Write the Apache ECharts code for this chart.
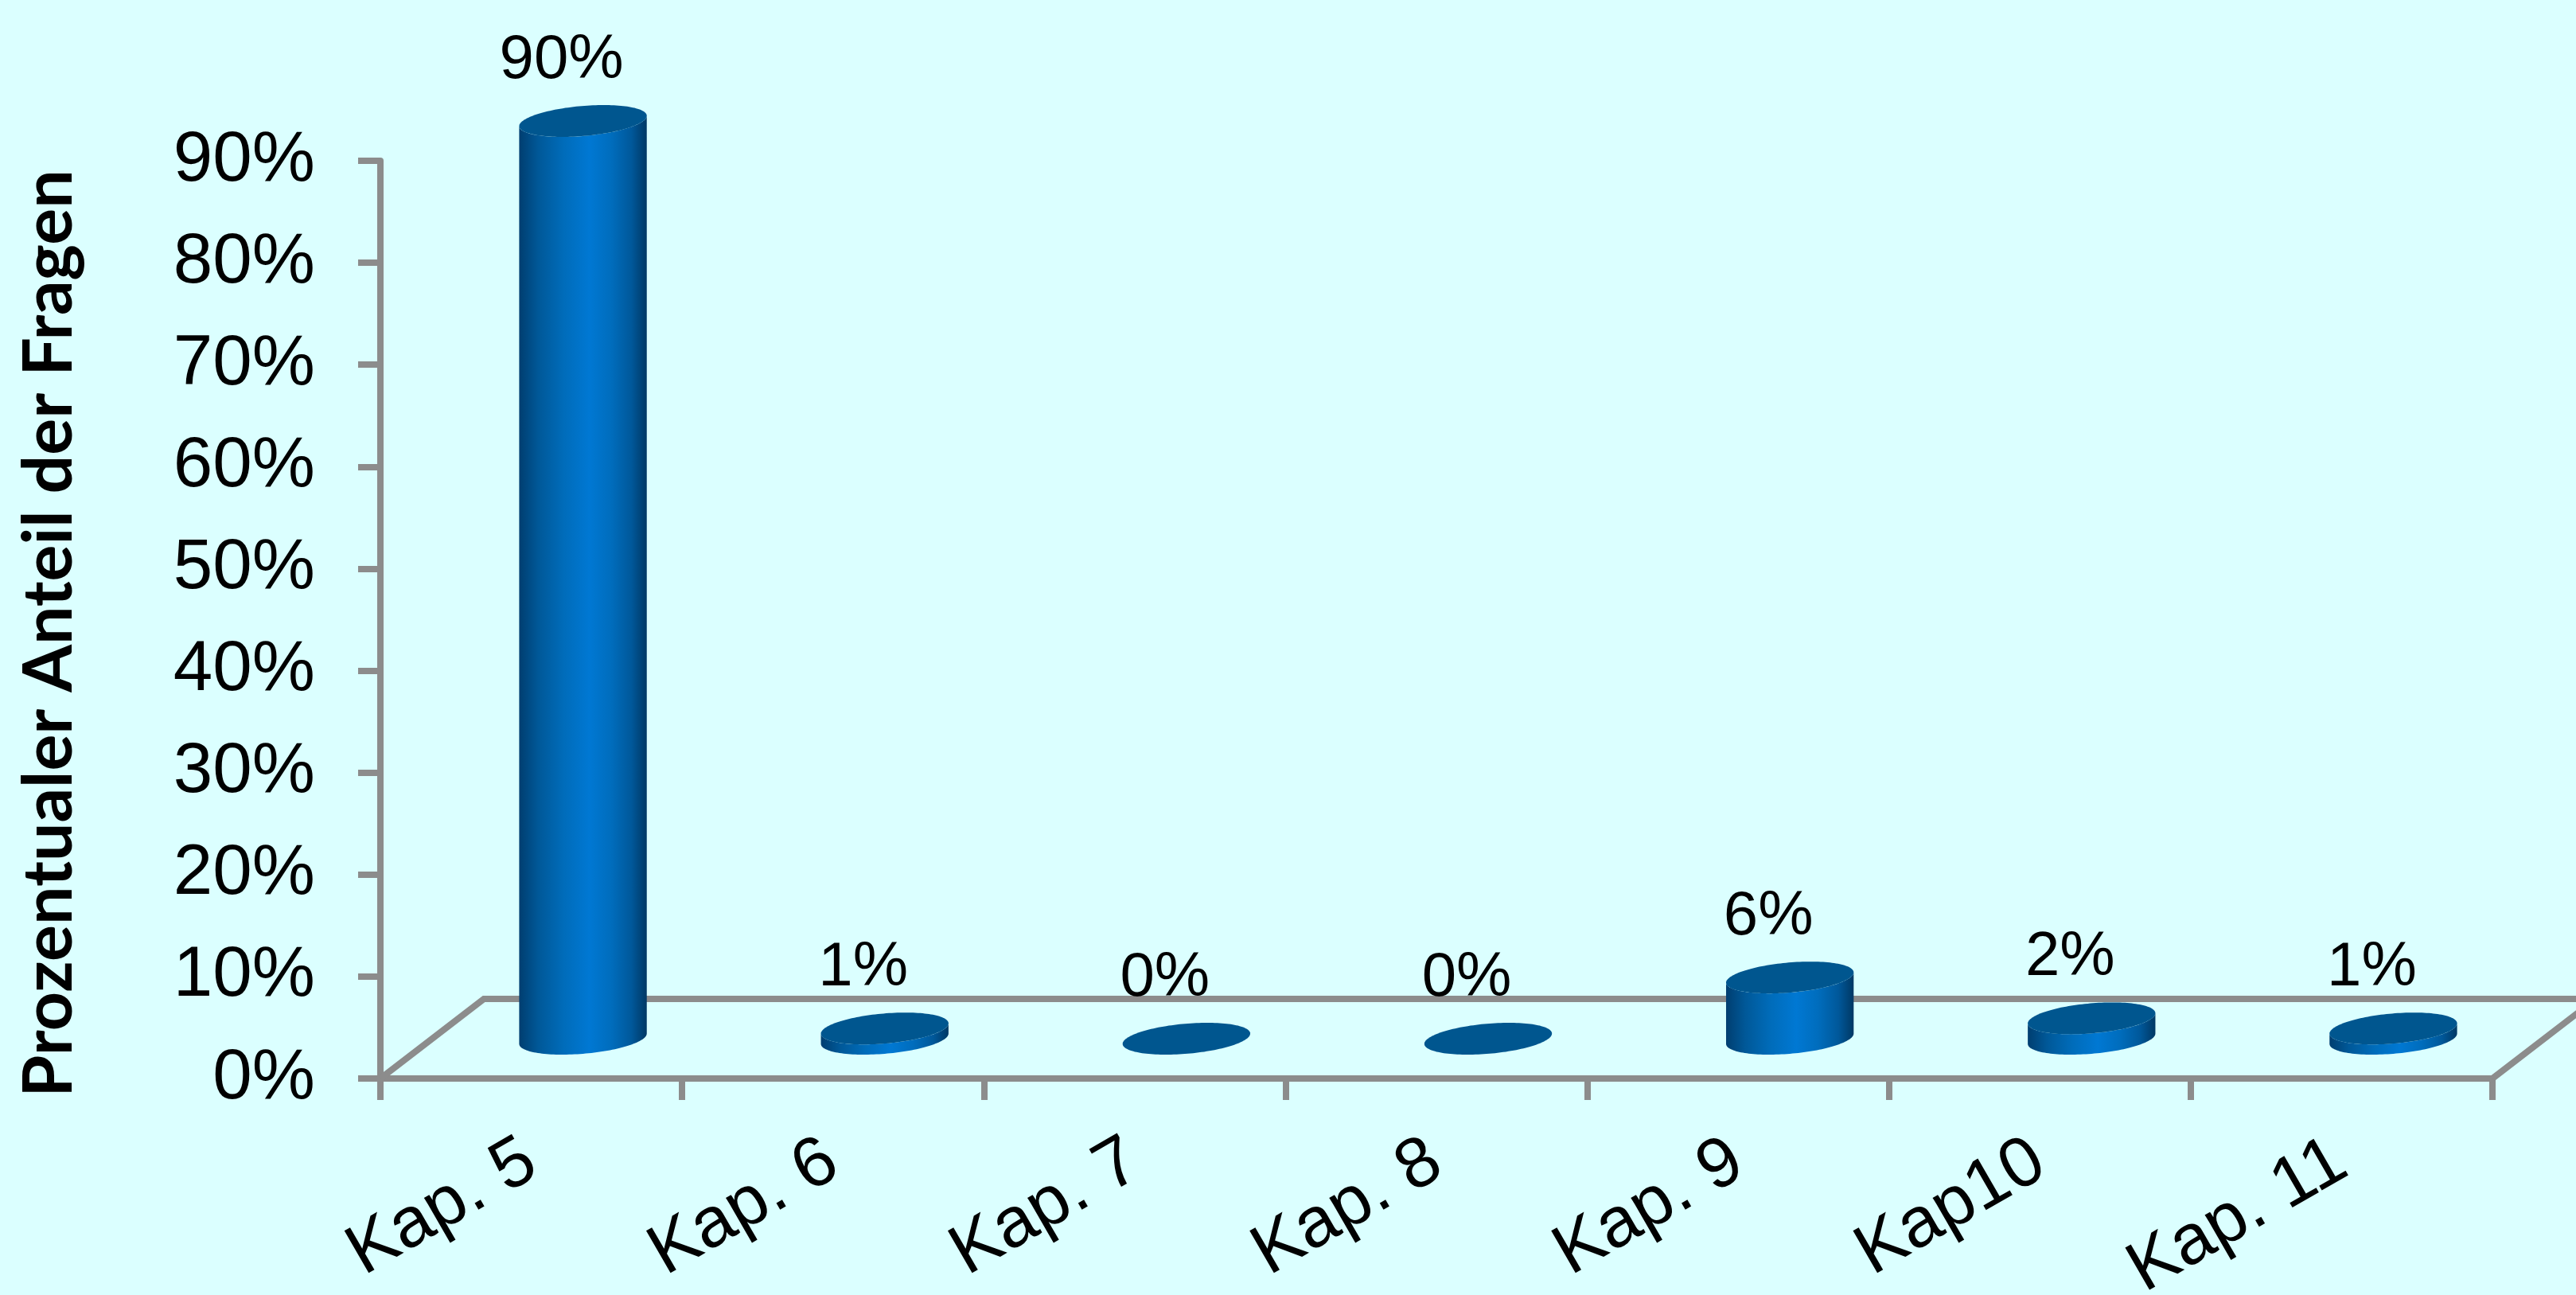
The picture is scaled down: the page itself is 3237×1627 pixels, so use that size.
<!DOCTYPE html>
<html>
<head>
<meta charset="utf-8">
<title>Prozentualer Anteil der Fragen je Kapitel</title>
<script src="https://cdn.jsdelivr.net/npm/echarts@6/dist/echarts.min.js"></script>
<style>
  html, body { margin: 0; padding: 0; background: #DBFFFF; }
  #chart { width: 3237px; height: 1627px; }
</style>
</head>
<body>
<div id="chart"></div>
<script>
// Chapters and the share of questions per chapter
const categories = ['Kap. 5', 'Kap. 6', 'Kap. 7', 'Kap. 8', 'Kap. 9', 'Kap10', 'Kap. 11'];
const shares = [0.90, 0.01, 0.00, 0.00, 0.06, 0.02, 0.01];

// Value axis ticks: 0% .. 90% in steps of 10%
const axisMin = 0;
const axisMax = 0.9;
const axisStep = 0.1;
const yTitle = 'Prozentualer Anteil der Fragen';

// Oblique projection of the floor depth (pixels) and cylinder size as share of a category band
const DEPTH = [130, -100];
const BAR_FRACTION = 0.4;
const LABEL_OFFSET = [-27, -76];

const GRAY = '#8C8C8C';
const TEXT_FONT = 'Liberation Sans, Arial, sans-serif';

const pct = v => Math.round(v * 100) + '%';

function ellipsePoints(cx, cy, A, B, t1, t2, n) {
  const pts = [];
  for (let k = 0; k <= n; k++) {
    const t = t1 + (t2 - t1) * k / n;
    pts.push([
      cx + A[0] * Math.cos(t) + B[0] * Math.sin(t),
      cy + A[1] * Math.cos(t) + B[1] * Math.sin(t)
    ]);
  }
  return pts;
}

function renderCylinder(params, api) {
  const i = api.value(0);
  const v = api.value(1);
  const top = api.coord([i, v]);
  const base = api.coord([i, 0]);
  const band = api.size([1, 0])[0];
  const A = [band * BAR_FRACTION / 2, 0];
  const B = [DEPTH[0] * BAR_FRACTION / 2, DEPTH[1] * BAR_FRACTION / 2];
  const bx = base[0] + DEPTH[0] / 2, by = base[1] + DEPTH[1] / 2;
  const tx = top[0] + DEPTH[0] / 2, ty = top[1] + DEPTH[1] / 2;
  const t0 = Math.atan2(B[0], A[0]);

  const children = [];
  if (by - ty > 0.5) {
    const lower = ellipsePoints(bx, by, A, B, t0 + Math.PI, t0 + 2 * Math.PI, 72);
    const upper = ellipsePoints(tx, ty, A, B, t0 + 2 * Math.PI, t0 + Math.PI, 72);
    children.push({
      type: 'polygon',
      shape: { points: lower.concat(upper) },
      style: {
        fill: new echarts.graphic.LinearGradient(0, 0, 1, 0, [
          { offset: 0, color: '#003E70' },
          { offset: 0.15, color: '#005898' },
          { offset: 0.35, color: '#006CBA' },
          { offset: 0.55, color: '#0078D3' },
          { offset: 0.72, color: '#006DBD' },
          { offset: 0.88, color: '#00589A' },
          { offset: 1, color: '#003864' }
        ]),
        stroke: null
      }
    });
  }
  children.push({
    type: 'polygon',
    shape: { points: ellipsePoints(tx, ty, A, B, 0, 2 * Math.PI, 144) },
    style: { fill: '#00568F', stroke: null }
  });
  children.push({
    type: 'text',
    style: {
      text: pct(v),
      x: tx + LABEL_OFFSET[0],
      y: ty + LABEL_OFFSET[1],
      fill: '#000000',
      fontSize: 78,
      fontFamily: TEXT_FONT,
      align: 'center',
      verticalAlign: 'middle',
      textAlign: 'center',
      textVerticalAlign: 'middle'
    }
  });
  return { type: 'group', children };
}

function renderFloor(params, api) {
  const band = api.size([1, 0])[0];
  const first = api.coord([0, 0]);
  const last = api.coord([categories.length - 1, 0]);
  const x0 = first[0] - band / 2;
  const x1 = last[0] + band / 2;
  const y = first[1];
  return {
    type: 'polyline',
    silent: true,
    shape: {
      points: [
        [x0, y],
        [x0 + DEPTH[0], y + DEPTH[1]],
        [x1 + DEPTH[0], y + DEPTH[1]],
        [x1, y]
      ]
    },
    style: { stroke: GRAY, lineWidth: 8, fill: null, lineJoin: 'miter' }
  };
}

const chart = echarts.init(document.getElementById('chart'), null, { renderer: 'canvas' });
chart.setOption({
  animation: false,
  backgroundColor: '#DBFFFF',
  grid: {
    left: 478, right: 105, top: 202, bottom: 272,
    containLabel: false,
    outerBoundsMode: 'none'
  },
  xAxis: {
    type: 'category',
    data: categories,
    boundaryGap: true,
    axisLine: { show: true, lineStyle: { color: GRAY, width: 8 } },
    axisTick: { show: true, interval: 0, length: 27, lineStyle: { color: GRAY, width: 8 } },
    axisLabel: {
      interval: 0,
      rotate: 30,
      margin: 98,
      fontSize: 89,
      fontFamily: TEXT_FONT,
      color: '#000000',
      hideOverlap: false
    },
    splitLine: { show: false }
  },
  yAxis: {
    type: 'value',
    min: axisMin,
    max: axisMax,
    interval: axisStep,
    axisLine: { show: true, lineStyle: { color: GRAY, width: 8 } },
    axisTick: { show: true, length: 28, lineStyle: { color: GRAY, width: 8 } },
    axisLabel: {
      margin: 82,
      fontSize: 89,
      fontFamily: TEXT_FONT,
      color: '#000000',
      formatter: pct
    },
    splitLine: { show: false }
  },
  graphic: [{
    type: 'text',
    x: 62,
    y: 796,
    rotation: Math.PI / 2,
    style: {
      text: yTitle,
      fill: '#000000',
      font: 'bold 86px Lato, "Open Sans", sans-serif',
      align: 'center',
      verticalAlign: 'middle',
      textAlign: 'center',
      textVerticalAlign: 'middle'
    }
  }],
  series: [
    {
      type: 'custom',
      name: 'floor',
      z: 1,
      clip: false,
      silent: true,
      renderItem: renderFloor,
      data: [[0, 0]]
    },
    {
      type: 'custom',
      name: 'Anteil',
      z: 2,
      clip: false,
      renderItem: renderCylinder,
      encode: { x: 0, y: 1 },
      data: shares.map((v, i) => [i, v])
    }
  ]
});
</script>
</body>
</html>
